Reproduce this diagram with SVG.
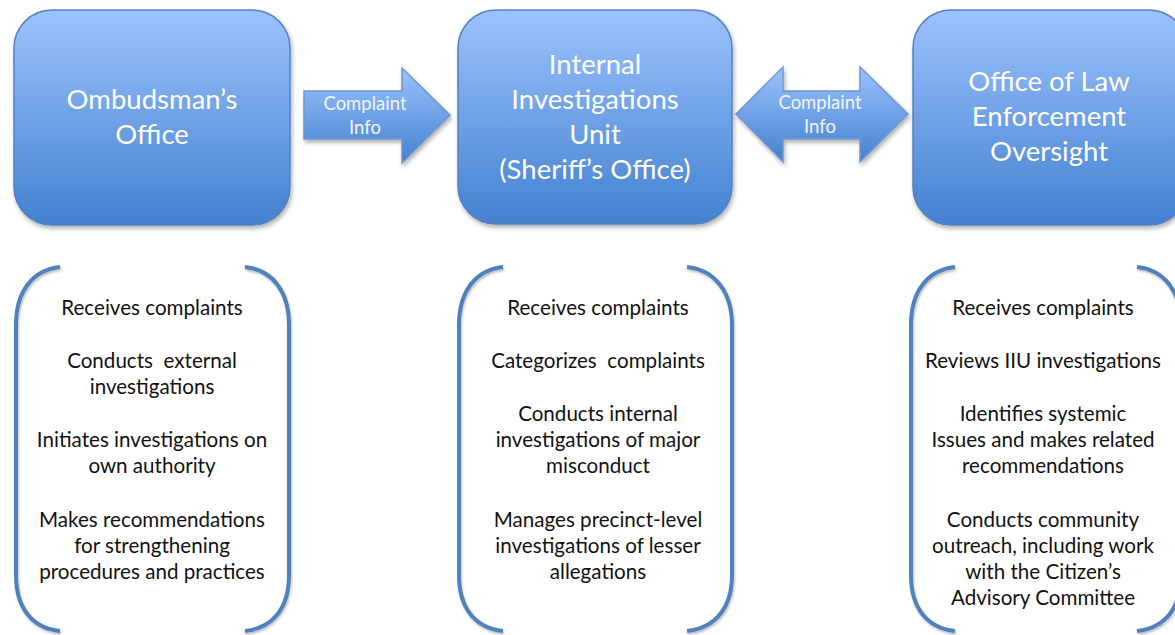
<svg xmlns="http://www.w3.org/2000/svg" width="1175" height="635" viewBox="0 0 1175 635">
  <defs>
    <linearGradient id="boxGrad" x1="0" y1="0" x2="0" y2="1">
      <stop offset="0" stop-color="#9CC2FE"/>
      <stop offset="1" stop-color="#4381CF"/>
    </linearGradient>
    <linearGradient id="arrowGrad" x1="0" y1="0" x2="0" y2="1">
      <stop offset="0" stop-color="#9CC2FE"/>
      <stop offset="1" stop-color="#4381CF"/>
    </linearGradient>
    <filter id="shadow" x="-10%" y="-10%" width="125%" height="125%">
      <feDropShadow dx="1.5" dy="3" stdDeviation="2" flood-color="#000" flood-opacity="0.3"/>
    </filter>
    <filter id="lshadow" x="-10%" y="-10%" width="130%" height="130%">
      <feDropShadow dx="1" dy="2" stdDeviation="1.2" flood-color="#000" flood-opacity="0.25"/>
    </filter>
  </defs>
  <style>
    .box { fill: url(#boxGrad); stroke: #5582BE; stroke-width: 1.5; filter: url(#shadow); }
    .arrow { fill: url(#arrowGrad); stroke: #6F98CF; stroke-width: 1.5; filter: url(#shadow); }
    .title { font-family: Lato, "Open Sans", "Liberation Sans", sans-serif; font-size: 27.5px; fill: #FFFFFF; text-anchor: middle; }
    .alabel { font-family: Lato, "Open Sans", "Liberation Sans", sans-serif; font-size: 18.5px; fill: #F2F6FF; text-anchor: middle; }
    .brk { fill: none; stroke: #4F81BD; stroke-width: 4; stroke-linecap: butt; filter: url(#lshadow); }
    .body { font-family: Lato, "Open Sans", "Liberation Sans", sans-serif; font-size: 20.6px; fill: #111111; text-anchor: middle; white-space: pre; }
  </style>
  <rect width="1175" height="635" fill="#FFFFFF"/>

  <g id="connectors">
    <g id="arrow-ombudsman-iiu">
      <path class="arrow" d="M304,91 L402,91 L402,68 L450,115 L402,163 L402,139 L304,139 Z"/>
      <text class="alabel" x="365" y="110">Complaint</text>
      <text class="alabel" x="365" y="134">Info</text>
    </g>
    <g id="arrow-iiu-olec">
      <path class="arrow" d="M736,114 L783,67 L783,91 L860,91 L860,67 L908,114 L860,162 L860,139 L783,139 L783,162 Z"/>
      <text class="alabel" x="820" y="109">Complaint</text>
      <text class="alabel" x="820" y="133">Info</text>
    </g>
  </g>

  <g id="node-ombudsman">
    <rect class="box" x="14" y="10" width="276" height="215" rx="38" ry="38"/>
    <text class="title" x="152" y="109">Ombudsman’s</text>
    <text class="title" x="152" y="144">Office</text>
  </g>

  <g id="node-iiu">
    <rect class="box" x="458" y="10" width="274" height="214" rx="38" ry="38"/>
    <text class="title" x="595" y="74">Internal</text>
    <text class="title" x="595" y="109">Investigations</text>
    <text class="title" x="595" y="144">Unit</text>
    <text class="title" x="595" y="179">(Sheriff’s Office)</text>
  </g>

  <g id="node-olec">
    <rect class="box" x="913" y="10" width="274" height="215" rx="38" ry="38"/>
    <text class="title" x="1049" y="91">Office of Law</text>
    <text class="title" x="1049" y="126">Enforcement</text>
    <text class="title" x="1049" y="161">Oversight</text>
  </g>

  <g id="duties-ombudsman">
    <path class="brk" d="M60,267 C32,270 16,292 16,325 L16,575 C16,608 32,628 60,631"/>
    <path class="brk" d="M245,267 C273,270 289,292 289,325 L289,575 C289,608 273,628 245,631"/>
    <text class="body" x="152" y="315">Receives complaints</text>
    <text class="body" x="152" y="368" xml:space="preserve">Conducts  external</text>
    <text class="body" x="152" y="394">investigations</text>
    <text class="body" x="152" y="447">Initiates investigations on</text>
    <text class="body" x="152" y="473">own authority</text>
    <text class="body" x="152" y="527">Makes recommendations</text>
    <text class="body" x="152" y="553">for strengthening</text>
    <text class="body" x="152" y="579">procedures and practices</text>
  </g>

  <g id="duties-iiu">
    <path class="brk" d="M503,267 C475,270 459,292 459,325 L459,575 C459,608 475,628 503,631"/>
    <path class="brk" d="M687,267 C715,270 732,292 732,325 L732,575 C732,608 715,628 687,631"/>
    <text class="body" x="598" y="315">Receives complaints</text>
    <text class="body" x="598" y="368" xml:space="preserve">Categorizes  complaints</text>
    <text class="body" x="598" y="421">Conducts internal</text>
    <text class="body" x="598" y="447">investigations of major</text>
    <text class="body" x="598" y="473">misconduct</text>
    <text class="body" x="598" y="527">Manages precinct-level</text>
    <text class="body" x="598" y="553">investigations of lesser</text>
    <text class="body" x="598" y="579">allegations</text>
  </g>

  <g id="duties-olec">
    <path class="brk" d="M955,267 C927,270 911,292 911,325 L911,575 C911,608 927,628 955,631"/>
    <path class="brk" d="M1137,267 C1165,270 1181,292 1181,325 L1181,575 C1181,608 1165,628 1137,631"/>
    <text class="body" x="1043" y="315">Receives complaints</text>
    <text class="body" x="1043" y="368">Reviews IIU investigations</text>
    <text class="body" x="1043" y="421">Identifies systemic</text>
    <text class="body" x="1043" y="447">Issues and makes related</text>
    <text class="body" x="1043" y="473">recommendations</text>
    <text class="body" x="1043" y="527">Conducts community</text>
    <text class="body" x="1043" y="553">outreach, including work</text>
    <text class="body" x="1043" y="579">with the Citizen’s</text>
    <text class="body" x="1043" y="605">Advisory Committee</text>
  </g>
</svg>
